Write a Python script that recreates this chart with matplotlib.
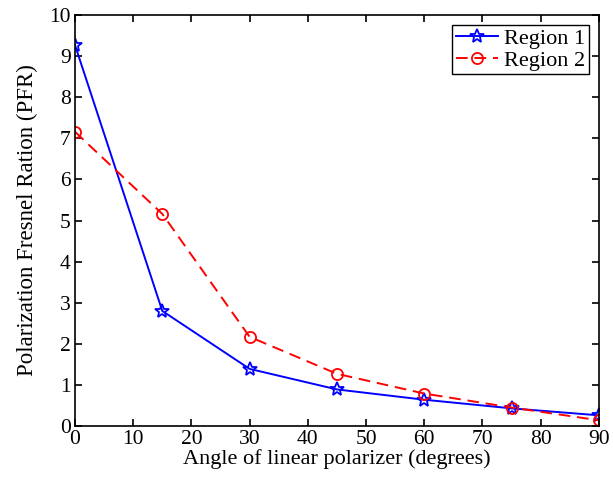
import matplotlib
matplotlib.use('Agg')
import matplotlib.pyplot as plt

angles = [0, 15, 30, 45, 60, 75, 90]
region1 = [9.27, 2.80, 1.39, 0.89, 0.64, 0.43, 0.26]
region2 = [7.16, 5.16, 2.17, 1.27, 0.79, 0.45, 0.14]

plt.rcParams['font.family'] = ['Liberation Serif', 'DejaVu Serif']
plt.rcParams['font.size'] = 13

fig = plt.figure(figsize=(6.13, 4.79), dpi=100)
ax = fig.add_axes([0.1223, 0.1106, 0.8547, 0.8581])

ax.plot(angles, region1, color='#0000ff', linestyle='-', marker='*', markersize=10,
        markerfacecolor='none', markeredgecolor='#0000ff', markeredgewidth=1.3,
        linewidth=1.4, label='Region 1')
ax.plot(angles, region2, color='#ff0000', linestyle=(0, (6, 3.5)), marker='o', markersize=8,
        markerfacecolor='none', markeredgecolor='#ff0000', markeredgewidth=1.3,
        linewidth=1.4, label='Region 2')

ax.set_xlim(0, 90)
ax.set_ylim(0, 10)
ax.set_xticks(range(0, 91, 10))
ax.set_yticks(range(0, 11, 1))
ax.tick_params(direction='in', top=True, right=True, length=5, width=1.2, labelsize=15.5, pad=3)
for s in ax.spines.values():
    s.set_linewidth(1.2)

ax.set_xlabel('Angle of linear polarizer (degrees)', fontsize=16, labelpad=0)
ax.set_ylabel('Polarization Fresnel Ration (PFR)', fontsize=16.5, labelpad=8)

leg = ax.legend(loc='upper right', fontsize=16, handlelength=1.9, handletextpad=0.3,
                borderpad=0.15, labelspacing=0.05, fancybox=False, framealpha=1,
                borderaxespad=0.45)
leg.get_frame().set_edgecolor('black')
leg.get_frame().set_linewidth(1.0)

fig.savefig('out.png', dpi=100)
